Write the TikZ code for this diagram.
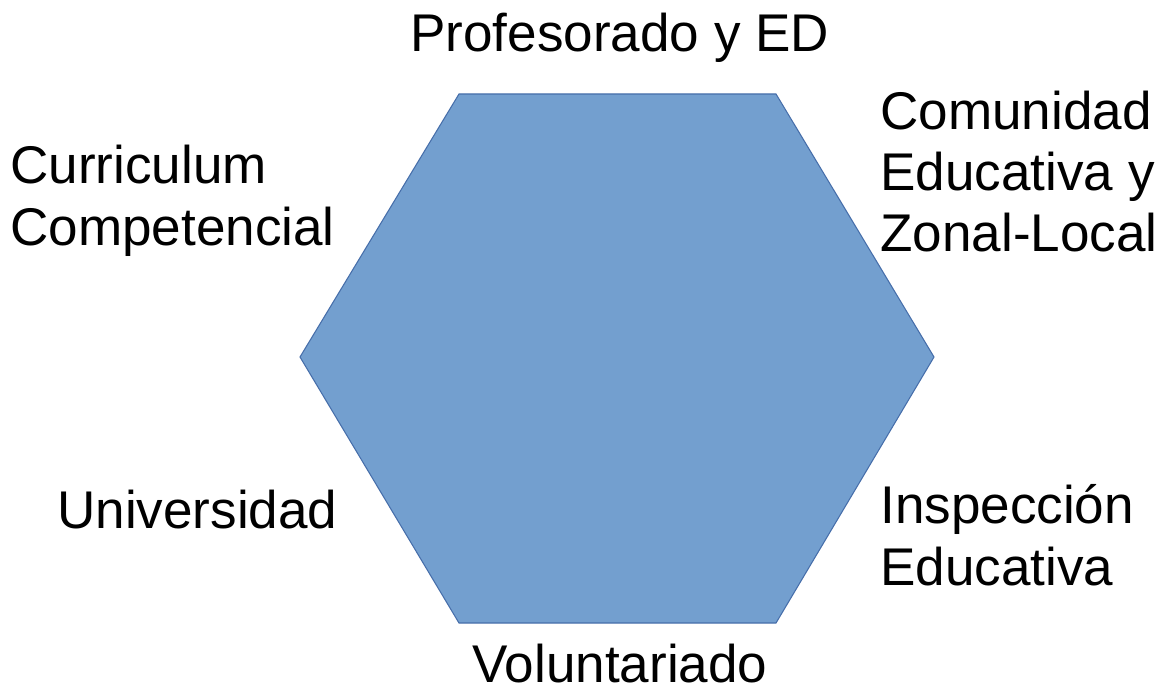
\documentclass[tikz,border=0pt]{standalone}
\usepackage{fontspec}
\setmainfont{Liberation Sans}
\definecolor{hexfill}{RGB}{115,159,207}
\definecolor{hexline}{RGB}{70,110,170}
\tikzset{
  lbl/.style={anchor=base west, inner sep=0pt, align=left, font=\fontsize{30.2}{35}\selectfont},
}
\begin{document}
\begin{tikzpicture}[x=0.02cm,y=-0.02cm]
\useasboundingbox (0,0) rectangle (1159,689);
\fill[white] (0,0) rectangle (1159,689);
\draw[fill=hexfill, draw=hexline, line width=0.6pt, line join=miter]
  (459,94) -- (776,94) -- (934,357) -- (776,623) -- (459,623) -- (300,357) -- cycle;
\node[lbl] (prof) at (410,52) {Profesorado y ED};
\node[lbl] (curr) at (10,245) {Curriculum\\Competencial};
\node[lbl] (comu) at (880,252) {Comunidad\\Educativa y\\Zonal-Local};
\node[lbl] (univ) at (57,528) {Universidad};
\node[lbl] (insp) at (880,585) {Inspección\\Educativa};
\node[lbl] (volu) at (472,682) {Voluntariado};
\end{tikzpicture}
\end{document}
